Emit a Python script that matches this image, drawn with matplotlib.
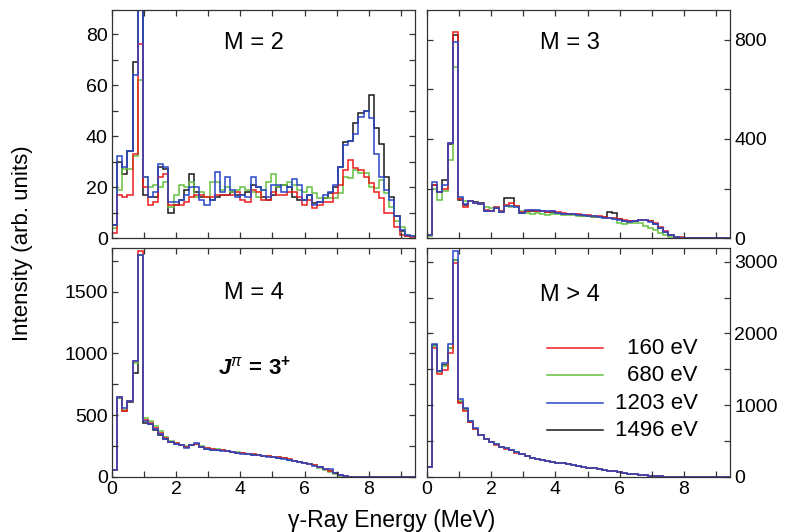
import numpy as np
import matplotlib
matplotlib.use("Agg")
import matplotlib.pyplot as plt
from matplotlib.ticker import MultipleLocator
from matplotlib.lines import Line2D

plt.rcParams["font.family"] = ["Liberation Sans", "DejaVu Sans"]
plt.rcParams["mathtext.fontset"] = "custom"
plt.rcParams["mathtext.rm"] = "Liberation Sans"
plt.rcParams["mathtext.it"] = "Liberation Sans:italic"
plt.rcParams["mathtext.bf"] = "Liberation Sans:bold"
plt.rcParams["mathtext.bfit"] = "Liberation Sans:bold:italic"

# gamma-ray energy binning (MeV)
bin_width = 0.16
n_bins = 59
edges = np.arange(n_bins + 1) * bin_width

energies = ["160 eV", "680 eV", "1203 eV", "1496 eV"]
colors = ["#ee1c1c", "#66c040", "#2a48c8", "#1a1a1a"]

# multiplicity M = 2
m2_160 = [2, 17, 16, 17, 33, 76, 20, 13, 14, 24, 25, 13, 13, 13, 14, 16, 17, 17, 16, 16,
          17, 17, 17, 17, 18, 15, 14, 19, 18, 15, 15, 18, 17, 17, 18, 18, 16, 13, 14.8, 11.6,
          13, 14.3, 14.3, 17.6, 20.8, 26.6, 30.6, 27.3, 26.6, 24, 21.4, 18.2, 15.6, 9.7, 9.7, 4.5, 1.3, 0.6, 0.3]
m2_680 = [4, 19, 27, 27, 32, 62, 24, 20, 21, 20, 22, 12, 17, 21, 20, 22, 16, 18, 16, 22,
          22, 19, 20, 18, 19, 20, 19, 18, 16, 19, 22, 25, 20, 21, 22, 21, 19, 18, 20.2, 17.6,
          15.6, 15.6, 15.6, 15.6, 17.6, 24, 23.4, 26.6, 25.4, 25.4, 20.2, 19.5, 22.8, 17.6, 12.3, 6.5, 4.5, 1.3, 0.6]
m2_1203 = [5, 32, 28, 34, 64, 140, 24, 16, 18, 29, 28, 14, 14, 15, 17, 20, 20, 15, 13, 15,
           26, 18, 24, 19, 16, 17, 16, 24, 20, 19, 16, 21, 21, 18, 20, 23, 21, 15, 17, 13,
           14, 17, 18, 21, 28, 36.5, 38, 41, 47.5, 50, 47, 33, 24, 19, 15, 8.6, 3.2, 1.3, 0.6]
m2_1496 = [5, 30, 25, 34, 69, 120, 17, 16, 16, 28, 27, 10, 13, 15, 19, 25, 18, 16, 16, 15,
           16, 17, 17, 18, 17, 17, 18, 21, 20, 16, 15, 17, 20, 21, 20, 16, 15, 15, 17, 13.7,
           14.3, 15.6, 17.6, 20, 28, 37.8, 38, 45, 49, 50, 56, 43, 37, 24, 16, 8.6, 2.6, 0.6, 0.6]

# multiplicity M = 3
m3_160 = [12, 215, 185, 196, 382, 834, 158, 127, 148, 143, 139, 112, 110, 125, 108, 135, 140, 128, 105, 110,
          112, 108, 110, 106, 110, 104, 100, 98, 96, 96, 94, 92, 90, 88, 85, 82, 80, 76, 72, 70,
          68, 72, 74, 70, 60, 44, 28, 14, 6, 3, 1.5, 1, 0.6, 0.4, 0.4, 0.4, 0.4, 0.4, 0.4]
m3_680 = [10, 200, 153, 188, 315, 692, 163, 148, 150, 142, 136, 125, 122, 125, 110, 130, 125, 128, 108, 100,
          98, 100, 96, 94, 95, 96, 94, 92, 92, 90, 90, 88, 86, 84, 82, 80, 78, 62, 58, 60,
          62, 60, 50, 42, 32, 22, 12, 6, 3, 1.5, 0.5, 0.5, 0.5, 0.5, 0.5, 0.5, 0.5, 0.5, 0.5]
m3_1203 = [12, 228, 187, 214, 382, 793, 167, 139, 148, 143, 139, 110, 108, 120, 105, 128, 130, 125, 100, 112,
           114, 112, 108, 110, 108, 100, 98, 96, 95, 93, 92, 90, 88, 86, 82, 80, 76, 72, 68, 66,
           68, 72, 72, 66, 56, 40, 25, 12, 5, 2, 1, 0.5, 0.5, 0.5, 0.5, 0.5, 0.5, 0.5, 0.5]
m3_1496 = [12, 215, 187, 234, 380, 820, 154, 132, 148, 145, 142, 110, 110, 122, 105, 163, 163, 130, 103, 108,
           110, 108, 108, 106, 105, 100, 98, 96, 96, 92, 90, 88, 86, 86, 84, 105, 100, 78, 70, 68,
           70, 72, 72, 68, 58, 42, 26, 13, 5, 2, 1, 0.5, 0.5, 0.5, 0.5, 0.5, 0.5, 0.5, 0.5]

# multiplicity M = 4
m4_160 = [57, 651, 530, 611, 940, 1830, 462, 435, 394, 353, 313, 286, 272, 259, 245, 259, 270, 245, 232, 224,
          222, 218, 212, 205, 198, 193, 188, 182, 176, 172, 167, 164, 160, 152, 142, 132, 124, 116, 108, 96,
          80, 64, 48, 30, 15, 7, 3, 1.5, 0.5, 0.5, 0.5, 0.5, 0.5, 0.5, 0.5, 0.5, 0.5, 0.5, 0.5]
m4_680 = [57, 640, 540, 615, 920, 1800, 475, 455, 415, 370, 325, 292, 276, 262, 250, 260, 268, 250, 236, 228,
          225, 220, 214, 206, 200, 194, 188, 183, 178, 172, 168, 162, 158, 150, 141, 131, 122, 114, 105, 94,
          76, 58, 40, 24, 11, 5, 2, 1, 0.5, 0.5, 0.5, 0.5, 0.5, 0.5, 0.5, 0.5, 0.5, 0.5, 0.5]
m4_1203 = [57, 651, 555, 611, 935, 1795, 455, 430, 385, 345, 305, 280, 270, 255, 238, 255, 272, 240, 230, 222,
           218, 214, 208, 200, 195, 190, 185, 180, 175, 170, 164, 158, 155, 148, 138, 130, 122, 116, 106, 92,
           78, 68, 62, 35, 16, 7, 3, 1.5, 0.5, 0.5, 0.5, 0.5, 0.5, 0.5, 0.5, 0.5, 0.5, 0.5, 0.5]
m4_1496 = [57, 640, 530, 605, 845, 1795, 440, 425, 380, 340, 305, 282, 270, 256, 240, 258, 268, 243, 230, 222,
           220, 216, 210, 203, 197, 191, 186, 181, 176, 171, 166, 161, 157, 150, 140, 131, 123, 115, 106, 94,
           79, 64, 50, 31, 15, 7, 3, 1.5, 0.5, 0.5, 0.5, 0.5, 0.5, 0.5, 0.5, 0.5, 0.5, 0.5, 0.5]

# multiplicity M > 4
m5_160 = [140, 1795, 1432, 1493, 1725, 2980, 1028, 916, 760, 665, 580, 525, 488, 452, 420, 396, 372, 340, 318, 296,
          268, 252, 238, 226, 213, 199, 188, 176, 165, 154, 142, 131, 119, 109, 99, 89, 79, 67, 57, 47,
          39, 31, 24, 17, 11, 7, 4, 2.5, 1.5, 1, 0.5, 0.5, 0.5, 0.5, 0.5, 0.5, 0.5, 0.5, 0.5]
m5_680 = [142, 1830, 1460, 1540, 1800, 3027, 1060, 940, 775, 672, 584, 528, 490, 454, 422, 398, 375, 342, 316, 297,
          270, 254, 240, 228, 215, 200, 190, 178, 166, 155, 143, 132, 120, 110, 100, 90, 80, 68, 58, 48,
          40, 32, 25, 18, 12, 8, 5, 3, 2, 1, 0.5, 0.5, 0.5, 0.5, 0.5, 0.5, 0.5, 0.5, 0.5]
m5_1203 = [145, 1851, 1478, 1586, 1851, 3152, 1084, 958, 781, 679, 586, 530, 493, 456, 424, 400, 377, 344, 316, 298,
           270, 255, 240, 228, 215, 200, 190, 178, 166, 155, 143, 132, 120, 110, 100, 90, 80, 68, 58, 48,
           40, 32, 25, 18, 12, 8, 5, 3, 2, 1, 0.5, 0.5, 0.5, 0.5, 0.5, 0.5, 0.5, 0.5, 0.5]
m5_1496 = [143, 1840, 1478, 1560, 1790, 3027, 1050, 945, 770, 672, 584, 528, 490, 454, 422, 398, 375, 342, 317, 297,
           269, 254, 239, 227, 214, 200, 189, 177, 165, 154, 142, 131, 120, 110, 100, 90, 80, 68, 58, 48,
           40, 32, 25, 18, 12, 8, 5, 3, 2, 1, 0.5, 0.5, 0.5, 0.5, 0.5, 0.5, 0.5, 0.5, 0.5]

panels = [
    dict(series=[m2_160, m2_680, m2_1203, m2_1496], label="M = 2", ymax=89.5, major=20, minor=10,
         side="left", pos=[0.1412, 0.5526, 0.3821, 0.4286], lab_y=0.855),
    dict(series=[m3_160, m3_680, m3_1203, m3_1496], label="M = 3", ymax=921, major=400, minor=200,
         side="right", pos=[0.5385, 0.5526, 0.3821, 0.4286], lab_y=0.855),
    dict(series=[m4_160, m4_680, m4_1203, m4_1496], label="M = 4", ymax=1853, major=500, minor=250,
         side="left", pos=[0.1412, 0.1034, 0.3821, 0.4305], lab_y=0.803),
    dict(series=[m5_160, m5_680, m5_1203, m5_1496], label="M > 4", ymax=3190, major=1000, minor=500,
         side="right", pos=[0.5385, 0.1034, 0.3821, 0.4305], lab_y=0.795),
]

fig = plt.figure(figsize=(7.93, 5.32), dpi=100)
axes = []
for k, p in enumerate(panels):
    ax = fig.add_axes(p["pos"])
    axes.append(ax)
    # draw order: black underneath, blue on top
    for idx in [3, 1, 0, 2]:
        ax.stairs(p["series"][idx], edges, color=colors[idx], lw=1.1, baseline=None)
    ax.set_xlim(0, edges[-1])
    ax.set_ylim(0, p["ymax"])
    ax.xaxis.set_major_locator(MultipleLocator(2))
    ax.xaxis.set_minor_locator(MultipleLocator(1))
    ax.yaxis.set_major_locator(MultipleLocator(p["major"]))
    ax.yaxis.set_minor_locator(MultipleLocator(p["minor"]))
    bottom_row = k >= 2
    ax.tick_params(which="both", direction="in", top=True, bottom=True, left=True, right=True,
                   color="#333333", width=0.9, labelsize=14, pad=3,
                   labelbottom=bottom_row, labelleft=(p["side"] == "left"),
                   labelright=(p["side"] == "right"))
    ax.tick_params(which="major", length=4.5)
    ax.tick_params(which="minor", length=4)
    for s in ax.spines.values():
        s.set_color("#333333")
        s.set_linewidth(0.9)
    ax.text(0.47, p["lab_y"], p["label"], transform=ax.transAxes, ha="center", va="center",
            fontsize=17)

axes[2].text(0.47, 0.476, r"$\mathbfit{J}^{\pi}\,\mathbf{=}\,\mathbf{3^{+}}$", transform=axes[2].transAxes,
             ha="center", va="center", fontsize=16)

# legend for the beam energies
leg_ax = axes[3]
rows_y = [0.563, 0.445, 0.323, 0.205]
for c, name, yy in zip(colors, energies, rows_y):
    leg_ax.add_line(Line2D([0.396, 0.581], [yy, yy], transform=leg_ax.transAxes, color=c, lw=1.1))
    leg_ax.text(0.894, yy, name, transform=leg_ax.transAxes, ha="right", va="center", fontsize=16)

fig.text(0.028, 0.543, "Intensity (arb. units)", rotation=90, ha="center", va="center", fontsize=16)
fig.text(0.494, 0.022, "\u03b3-Ray Energy (MeV)", ha="center", va="center", fontsize=16.5)

fig.savefig("out.png", dpi=100)
